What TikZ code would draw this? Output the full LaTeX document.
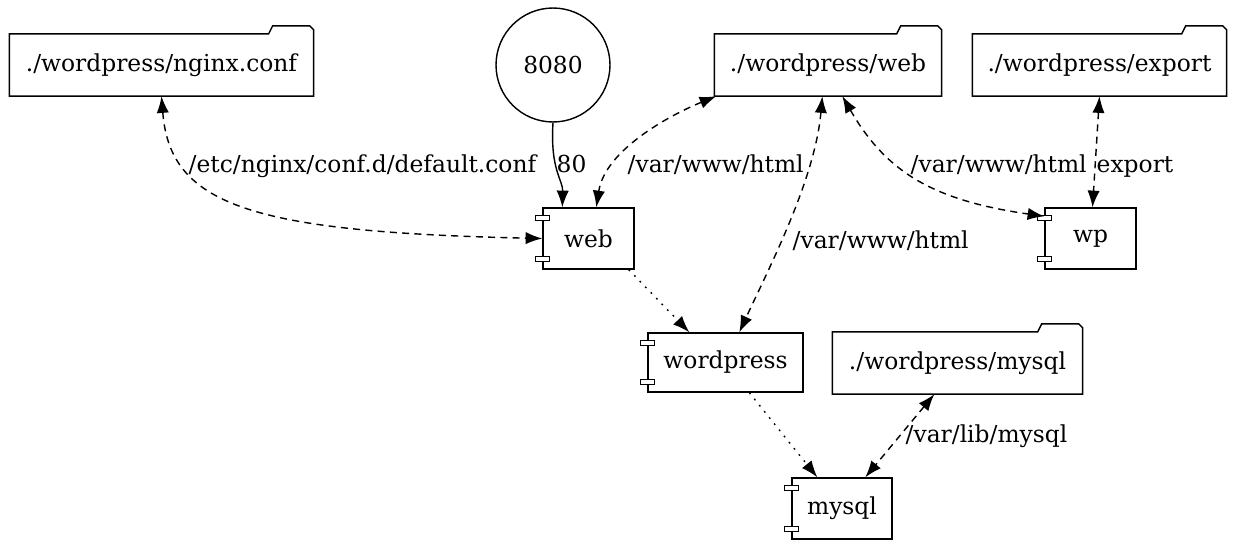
\documentclass[tikz,border=0pt]{standalone}
\usepackage{fontspec}
\setmainfont{DejaVu Serif}
\usepackage{tikz}
\usetikzlibrary{arrows.meta,positioning,calc}

\newcommand{\folderline}[1]{%
  \draw (#1.south west) -- (#1.north west) -- ($(#1.north east)+(-45,0)$) -- ++(4,-8)
    -- ($(#1.north east)+(-4,-8)$) -- ++(4,4) -- (#1.south east) -- cycle;}
\newcommand{\componentline}[1]{%
  \draw[fill=white] ($(#1.north west)+(-7,8)$) rectangle ++(14,5);
  \draw[fill=white] ($(#1.south west)+(-7,-13)$) rectangle ++(14,5);}

\begin{document}
\begin{tikzpicture}[
    x=0.02cm, y=-0.02cm,
    font=\fontsize{13.3}{16}\selectfont,
    line width=0.8pt,
    folder/.style={rectangle, minimum height=1.22cm, inner sep=0pt},
    component/.style={rectangle, draw, minimum height=1.22cm, inner sep=0pt},
    portnode/.style={circle, draw, minimum size=2.28cm, inner sep=0pt},
    mount/.style={dash pattern=on 4pt off 3pt, {Latex[length=9.5pt,width=7pt]}-{Latex[length=9.5pt,width=7pt]}},
    depends/.style={dash pattern=on 1pt off 3.5pt, -{Latex[length=9.5pt,width=7pt]}},
    publish/.style={-{Latex[length=9.5pt,width=7pt]}},
    lbl/.style={anchor=base west, inner sep=0pt}
  ]
  \useasboundingbox (0,0) rectangle (1233,544);

  % Volumes
  \node[folder, minimum width=6.06cm] (nginxconf) at (161.5,65) {./wordpress/nginx.conf};
  \node[portnode] (port) at (553,65) {8080};
  \node[folder, minimum width=4.52cm] (webdir) at (828,65) {./wordpress/web};
  \node[folder, minimum width=5.06cm] (exportdir) at (1099.5,65) {./wordpress/export};
  \node[folder, minimum width=4.98cm] (mysqldir) at (957.5,363) {./wordpress/mysql};
  \folderline{nginxconf}
  \folderline{webdir}
  \folderline{exportdir}
  \folderline{mysqldir}

  % Services
  \node[component, minimum width=1.82cm] (web) at (588.5,238.5) {web};
  \node[component, minimum width=1.82cm] (wp) at (1090.5,238.5) {wp};
  \node[component, minimum width=3.1cm, minimum height=1.18cm] (wordpress) at (725.5,362.5) {wordpress};
  \node[component, minimum width=2cm] (mysql) at (842,508.5) {mysql};
  \componentline{web}
  \componentline{wp}
  \componentline{wordpress}
  \componentline{mysql}

  % Ports
  \draw[publish] (port.south) .. controls (550,170) and (563,180) .. ($(web.north west)+(20,0)$);

  % Mounts
  \draw[mount] (nginxconf.south) .. controls (170,205) and (250,232) .. (web.west);
  \draw[mount] ($(webdir.south west)+(2,0)$) .. controls (670,115) and (605,150) .. ($(web.north west)+(54,0)$);
  \draw[mount] ($(webdir.south west)+(108,0)$) .. controls (815,180) and (768,270) .. ($(wordpress.north west)+(92,0)$);
  \draw[mount] ($(webdir.south west)+(128,0)$) .. controls (885,170) and (930,200) .. ($(wp.north west)+(0,9)$);
  \draw[mount] (exportdir.south) -- ($(wp.north)+(2,0)$);
  \draw[mount] ($(mysqldir.south west)+(102,0)$) -- ($(mysql.north west)+(74,0)$);

  % Dependencies
  \draw[depends] ($(web.south east)+(-6,0)$) -- ($(wordpress.north west)+(42,0)$);
  \draw[depends] ($(wordpress.south west)+(102,0)$) -- ($(mysql.north west)+(26,0)$);

  % Labels
  \node[lbl] (l1) at (188,172) {/etc/nginx/conf.d/default.conf};
  \node[lbl] (l2) at (556,172) {80};
  \node[lbl] (l3) at (627,172) {/var/www/html};
  \node[lbl] (l4) at (910,172) {/var/www/html};
  \node[lbl] (l5) at (1096,172) {export};
  \node[lbl] (l6) at (792,248) {/var/www/html};
  \node[lbl] (l7) at (905,442) {/var/lib/mysql};

\end{tikzpicture}
\end{document}
